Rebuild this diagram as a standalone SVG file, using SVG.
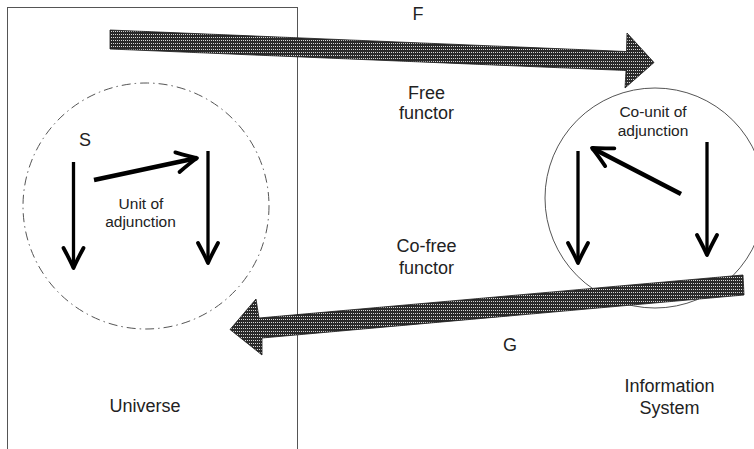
<svg xmlns="http://www.w3.org/2000/svg" width="754" height="449" viewBox="0 0 754 449">
  <defs>
    <!-- dithered fill for the wide functor arrows -->
    <pattern id="dither" x="0" y="0" width="2" height="3" patternUnits="userSpaceOnUse">
      <rect width="2" height="3" fill="#2a2a2a"/>
      <rect x="1" y="1" width="1" height="1" fill="#d8d8d8"/>
    </pattern>
    <!-- open chevron head for the morphism arrows -->
    <marker id="chev" markerUnits="userSpaceOnUse" viewBox="-24 -13 28 26" markerWidth="28" markerHeight="26" refX="0" refY="0" orient="auto" overflow="visible">
      <path d="M-20,-10 Q-7,-3 0,0 Q-7,3 -20,10" fill="none" stroke="#000" stroke-width="3.8" stroke-linecap="round" stroke-linejoin="round"/>
    </marker>
  </defs>
  <style>
    .lbl { font-family: "Liberation Sans", Arial, sans-serif; font-size: 18px; fill: #222; text-anchor: middle; }
    .small { font-size: 15.5px; }
    .frame { fill: none; stroke: #555; stroke-width: 1; }
    .dashcircle { fill: none; stroke: #555; stroke-width: 1; stroke-dasharray: 9 4 1.5 4; }
    .solidcircle { fill: none; stroke: #555; stroke-width: 1; }
    .morph { fill: none; stroke: #000; stroke-width: 3.3; marker-end: url(#chev); }
    .morph.thick { stroke-width: 4.6; }
    .functor { fill: url(#dither); stroke: #1a1a1a; stroke-width: 0.8; stroke-linejoin: miter; }
  </style>

  <rect width="754" height="449" fill="#fff"/>

  <!-- Universe category -->
  <g id="universe">
    <rect class="frame" x="7.5" y="7.5" width="290" height="460"/>
    <text class="lbl" x="145" y="411.5">Universe</text>
  </g>

  <!-- Information system category -->
  <g id="information-system">
    <text class="lbl" x="669.5" y="391.5">Information</text>
    <text class="lbl" x="669.5" y="413.5">System</text>
  </g>

  <!-- Unit of adjunction (left) -->
  <g id="unit">
    <circle class="dashcircle" cx="146" cy="206" r="123"/>
    <text class="lbl" x="85" y="146">S</text>
    <text class="lbl small" x="141" y="209">Unit of</text>
    <text class="lbl small" x="140.5" y="226.5">adjunction</text>
  </g>

  <!-- Co-unit of adjunction (right) -->
  <g id="counit">
    <circle class="solidcircle" cx="655" cy="198" r="110"/>
    <text class="lbl small" x="653" y="117">Co-unit of</text>
    <text class="lbl small" x="653" y="136">adjunction</text>
  </g>

  <!-- functor labels -->
  <g id="free-functor">
    <text class="lbl" x="418" y="20">F</text>
    <text class="lbl" x="426.5" y="99">Free</text>
    <text class="lbl" x="426.5" y="119">functor</text>
  </g>
  <g id="cofree-functor">
    <text class="lbl" x="426.5" y="252">Co-free</text>
    <text class="lbl" x="426.5" y="274">functor</text>
    <text class="lbl" x="510" y="351">G</text>
  </g>

  <!-- connectors -->
  <g id="connectors">
    <!-- F : Universe -> Information System -->
    <path class="functor" d="M110,30 L626.5,51.5 L627,33 L654,62.5 L625,88 L626,70.5 L110,49 Z"/>
    <!-- G : Information System -> Universe -->
    <path class="functor" d="M743,275 L744,295 L262,338 L262,355 L230,329.5 L256,299 L259,318 Z"/>

    <!-- unit side morphisms -->
    <line class="morph" x1="73.5" y1="162" x2="73.5" y2="268"/>
    <line class="morph" x1="208" y1="151" x2="208" y2="263"/>
    <line class="morph thick" x1="94" y1="180" x2="197" y2="158"/>

    <!-- co-unit side morphisms -->
    <line class="morph" x1="578" y1="151" x2="578" y2="263"/>
    <line class="morph" x1="707" y1="142" x2="707" y2="255"/>
    <line class="morph thick" x1="681" y1="194" x2="592" y2="148"/>
  </g>
</svg>
